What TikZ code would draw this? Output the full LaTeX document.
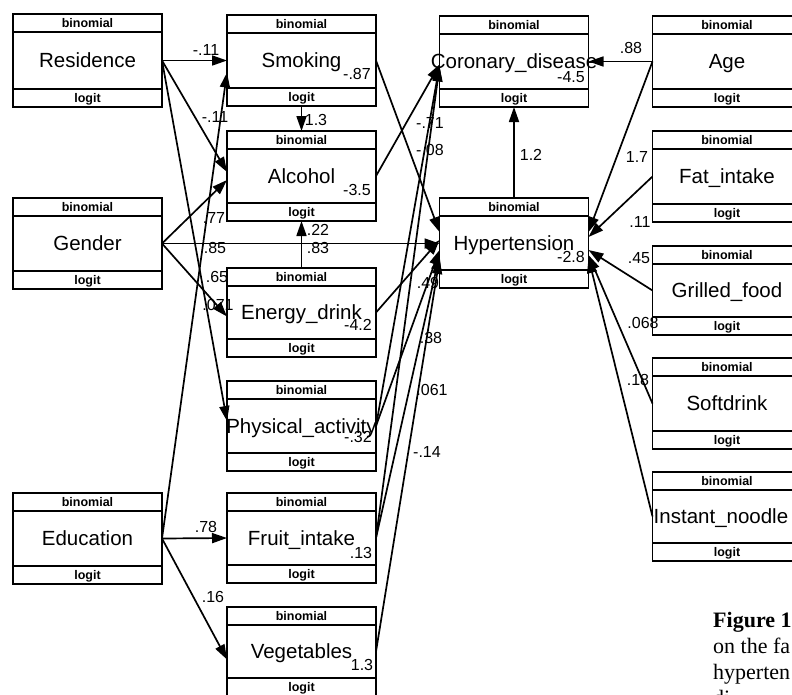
\documentclass[tikz,border=0pt]{standalone}
\usepackage{fontspec}
\setmainfont{Liberation Sans}
\newfontfamily\capfont{Liberation Serif}
\usetikzlibrary{arrows.meta}
\tikzset{
  box/.style={draw, line width=1.9pt, minimum width=149pt, inner sep=0pt, outer sep=0pt},
  stripline/.style={line width=2.5pt},
  striptxt/.style={font=\fontsize{12.5}{12.5}\selectfont\bfseries, inner sep=0pt, anchor=base},
  maintxt/.style={font=\fontsize{20.5}{20.5}\selectfont, inner sep=0pt, anchor=base},
  lbl/.style={font=\fontsize{16}{16}\selectfont, inner sep=0pt},
  rel/.style={draw, line width=1.7pt, -{Triangle[length=15pt,width=10pt]}},
  captxt/.style={font=\capfont\fontsize{22}{26}\selectfont, inner sep=0pt, anchor=base west}
}
\newcommand\semvar[5]{%
  \node[box, minimum height=#5] (#1) at (#2,#3) {};
  \draw[stripline] ([yshift=-18pt]#1.north west) -- ([yshift=-18pt]#1.north east);
  \draw[stripline] ([yshift=18pt]#1.south west) -- ([yshift=18pt]#1.south east);
  \node[striptxt] (#1-b) at ([yshift=-13.5pt]#1.north) {binomial};
  \node[striptxt] (#1-l) at ([yshift=4.5pt]#1.south) {logit};
  \node[maintxt] (#1-t) at ([yshift=-7.3pt]#1.center) {#4};
}
\begin{document}
\begin{tikzpicture}[x=1pt,y=-1pt]
\useasboundingbox (0,0) rectangle (792,694);
\clip (0,0) rectangle (792,694);
\fill[white] (0,0) rectangle (792,694);
% left column
\semvar{Residence}{87.5}{60.5}{Residence}{93}
\semvar{Gender}{87.5}{243.5}{Gender}{91}
\semvar{Education}{87.5}{538.5}{Education}{91}
% second column
\semvar{Smoking}{301.5}{60.5}{Smoking}{91}
\semvar{Alcohol}{301.5}{176}{Alcohol}{90}
\semvar{Energy}{301.5}{312.5}{Energy\_drink}{89}
\semvar{Physical}{301.5}{426}{Physical\_activity}{90}
\semvar{Fruit}{301.5}{538}{Fruit\_intake}{90}
\semvar{Veg}{301.5}{651.5}{Vegetables}{89}
% outcomes
\semvar{Coronary}{514}{61.5}{Coronary\_disease}{91}
\semvar{Hyp}{514}{243}{Hypertension}{90}
% right column
\semvar{Age}{727}{61.5}{Age}{91}
\semvar{Fat}{727}{176.5}{Fat\_intake}{91}
\semvar{Grilled}{727}{290.5}{Grilled\_food}{89}
\semvar{Soft}{727}{403.5}{Softdrink}{91}
\node[box, minimum height=89] (Noodle) at (727,516.5) {};
\draw[stripline] ([yshift=-18pt]Noodle.north west) -- ([yshift=-18pt]Noodle.north east);
\draw[stripline] ([yshift=18pt]Noodle.south west) -- ([yshift=18pt]Noodle.south east);
\node[striptxt] (Noodle-b) at ([yshift=-13.5pt]Noodle.north) {binomial};
\node[striptxt] (Noodle-l) at ([yshift=4.5pt]Noodle.south) {logit};
\node[maintxt, anchor=base west] (Noodle-t) at ([xshift=1pt,yshift=-7.3pt]Noodle.west) {Instant\_noodle};

% paths from the left column
\draw[rel] (Residence.east) -- (Smoking.west);
\draw[rel] (Residence.east) -- ([yshift=4pt]Alcohol.west);
\draw[rel] (Residence.east) -- ([yshift=5pt]Physical.west);
\draw[rel] (Gender.east) -- ([yshift=-4pt]Alcohol.west);
\draw[rel] (Gender.east) -- (Gender.east -| Hyp.west);
\draw[rel] (Gender.east) -- ([yshift=-4pt]Energy.west);
\draw[rel] (Education.east) -- ([yshift=-12pt]Smoking.west);
\draw[rel] (Education.east) -- (Fruit.west);
\draw[rel] (Education.east) -- ([yshift=-8pt]Veg.west);
% mediators
\draw[rel] (Smoking.south) -- (Alcohol.north);
\draw[rel] (Energy.north) -- (Alcohol.south);
\draw[rel] (Smoking.east) -- ([yshift=11pt]Hyp.west);
\draw[rel] (Alcohol.east) -- ([yshift=-3pt]Coronary.west);
\draw[rel] (Energy.east) -- ([yshift=3pt]Hyp.west);
\draw[rel] (Physical.east) -- ([yshift=-4pt]Coronary.west);
\draw[rel] (Physical.east) -- ([yshift=-7pt]Hyp.west);
\draw[rel] (Fruit.east) -- ([yshift=-5pt]Coronary.west);
\draw[rel] (Fruit.east) -- ([yshift=-12pt]Hyp.west);
\draw[rel] (Veg.east) -- ([yshift=-16pt]Hyp.west);
\draw[rel] (Hyp.north) -- (Coronary.south);
% right column
\draw[rel] (Age.west) -- (Coronary.east);
\draw[rel] (Age.west) -- ([yshift=11pt]Hyp.east);
\draw[rel] (Fat.west) -- ([yshift=6pt]Hyp.east);
\draw[rel] (Grilled.west) -- ([yshift=-7pt]Hyp.east);
\draw[rel] (Soft.west) -- ([yshift=-12pt]Hyp.east);
\draw[rel] (Noodle.west) -- ([yshift=-15pt]Hyp.east);

% intercepts
\node[lbl] (i-smk) at (357,74) {-.87};
\node[lbl] (i-alc) at (357,190) {-3.5};
\node[lbl] (i-ene) at (358,325) {-4.2};
\node[lbl] (i-phy) at (358,437) {-.32};
\node[lbl] (i-fru) at (361,553) {.13};
\node[lbl] (i-veg) at (362,665) {1.3};
\node[lbl] (i-cor) at (571,77) {-4.5};
\node[lbl] (i-hyp) at (571,257) {-2.8};
% weights
\node[lbl] (w1) at (206,50) {-.11};
\node[lbl] (w2) at (215,117) {-.11};
\node[lbl] (w3) at (214,218) {.77};
\node[lbl] (w4) at (215,248) {.85};
\node[lbl] (w5) at (217,277) {.65};
\node[lbl] (w6) at (218,305) {.071};
\node[lbl] (w7) at (316,120) {1.3};
\node[lbl] (w8) at (318,230) {.22};
\node[lbl] (w9) at (318,248) {.83};
\node[lbl] (w10) at (430,123) {-.71};
\node[lbl] (w11) at (430,150) {-.08};
\node[lbl] (w12) at (428,283) {.49};
\node[lbl] (w13) at (431,338) {.38};
\node[lbl] (w14) at (432,390) {.061};
\node[lbl] (w15) at (427,452) {-.14};
\node[lbl] (w16) at (206,527) {.78};
\node[lbl] (w17) at (213,597) {.16};
\node[lbl] (w18) at (531,155) {1.2};
\node[lbl] (w19) at (631,48) {.88};
\node[lbl] (w20) at (637,157) {1.7};
\node[lbl] (w21) at (640,222) {.11};
\node[lbl] (w22) at (639,258) {.45};
\node[lbl] (w23) at (643,323) {.068};
\node[lbl] (w24) at (638,380) {.18};

% caption fragment
\node[captxt] (c1) at (713,627) {\textbf{Figure 1}};
\node[captxt] (c2) at (713,653) {on the fa};
\node[captxt] (c3) at (713,679) {hyperten};
\node[captxt] (c4) at (713,705) {di};
\end{tikzpicture}
\end{document}
